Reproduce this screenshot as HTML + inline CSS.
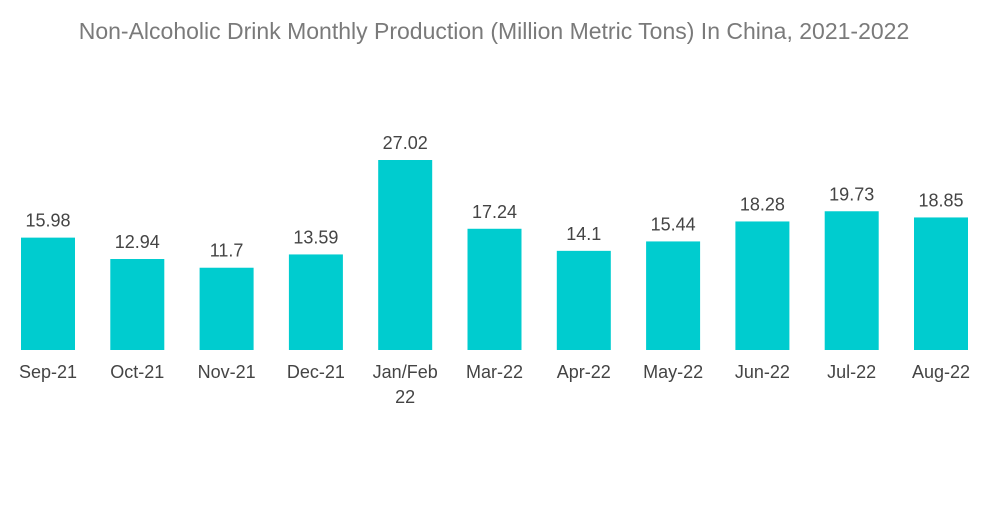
<!DOCTYPE html>
<html><head><meta charset="utf-8"><style>
body{margin:0;background:#fff;width:1000px;height:504px;overflow:hidden;font-family:"Liberation Sans",sans-serif}
</style></head><body>
<svg width="1000" height="504">
<text x="494" y="39" text-anchor="middle" font-size="23" fill="#7a7a7a">Non-Alcoholic Drink Monthly Production (Million Metric Tons) In China, 2021-2022</text>
<g id="bars"></g>
</svg>
<script>
const categories=["Sep-21","Oct-21","Nov-21","Dec-21","Jan/Feb|22","Mar-22","Apr-22","May-22","Jun-22","Jul-22","Aug-22"];
const values=[15.98,12.94,11.7,13.59,27.02,17.24,14.1,15.44,18.28,19.73,18.85];
const valueLabels=["15.98","12.94","11.7","13.59","27.02","17.24","14.1","15.44","18.28","19.73","18.85"];
const base=350, scale=190/27.02, x0=21, step=89.3, bw=54;
const xPos=i=>x0+i*step, yPos=v=>base-v*scale;
const g=document.getElementById('bars'), ns="http://www.w3.org/2000/svg";
values.forEach((v,i)=>{
  const r=document.createElementNS(ns,'rect');
  r.setAttribute('x',xPos(i));r.setAttribute('y',yPos(v));r.setAttribute('width',bw);r.setAttribute('height',base-yPos(v));r.setAttribute('fill','#00cccf');
  
  
  g.appendChild(r);
  const t=document.createElementNS(ns,'text');
  t.setAttribute('x',xPos(i)+bw/2);t.setAttribute('y',yPos(v)-11);t.setAttribute('text-anchor','middle');t.setAttribute('font-size','18');t.setAttribute('fill','#444');
  t.textContent=valueLabels[i];
  
  
  g.appendChild(t);
  categories[i].split('|').forEach((line,j)=>{
    const c=document.createElementNS(ns,'text');
    c.setAttribute('x',xPos(i)+bw/2);c.setAttribute('y',378+j*25);c.setAttribute('text-anchor','middle');c.setAttribute('font-size','18');c.setAttribute('fill','#444');
    c.textContent=line;
    
    
    g.appendChild(c);
  });
});
</script>
</body></html>
